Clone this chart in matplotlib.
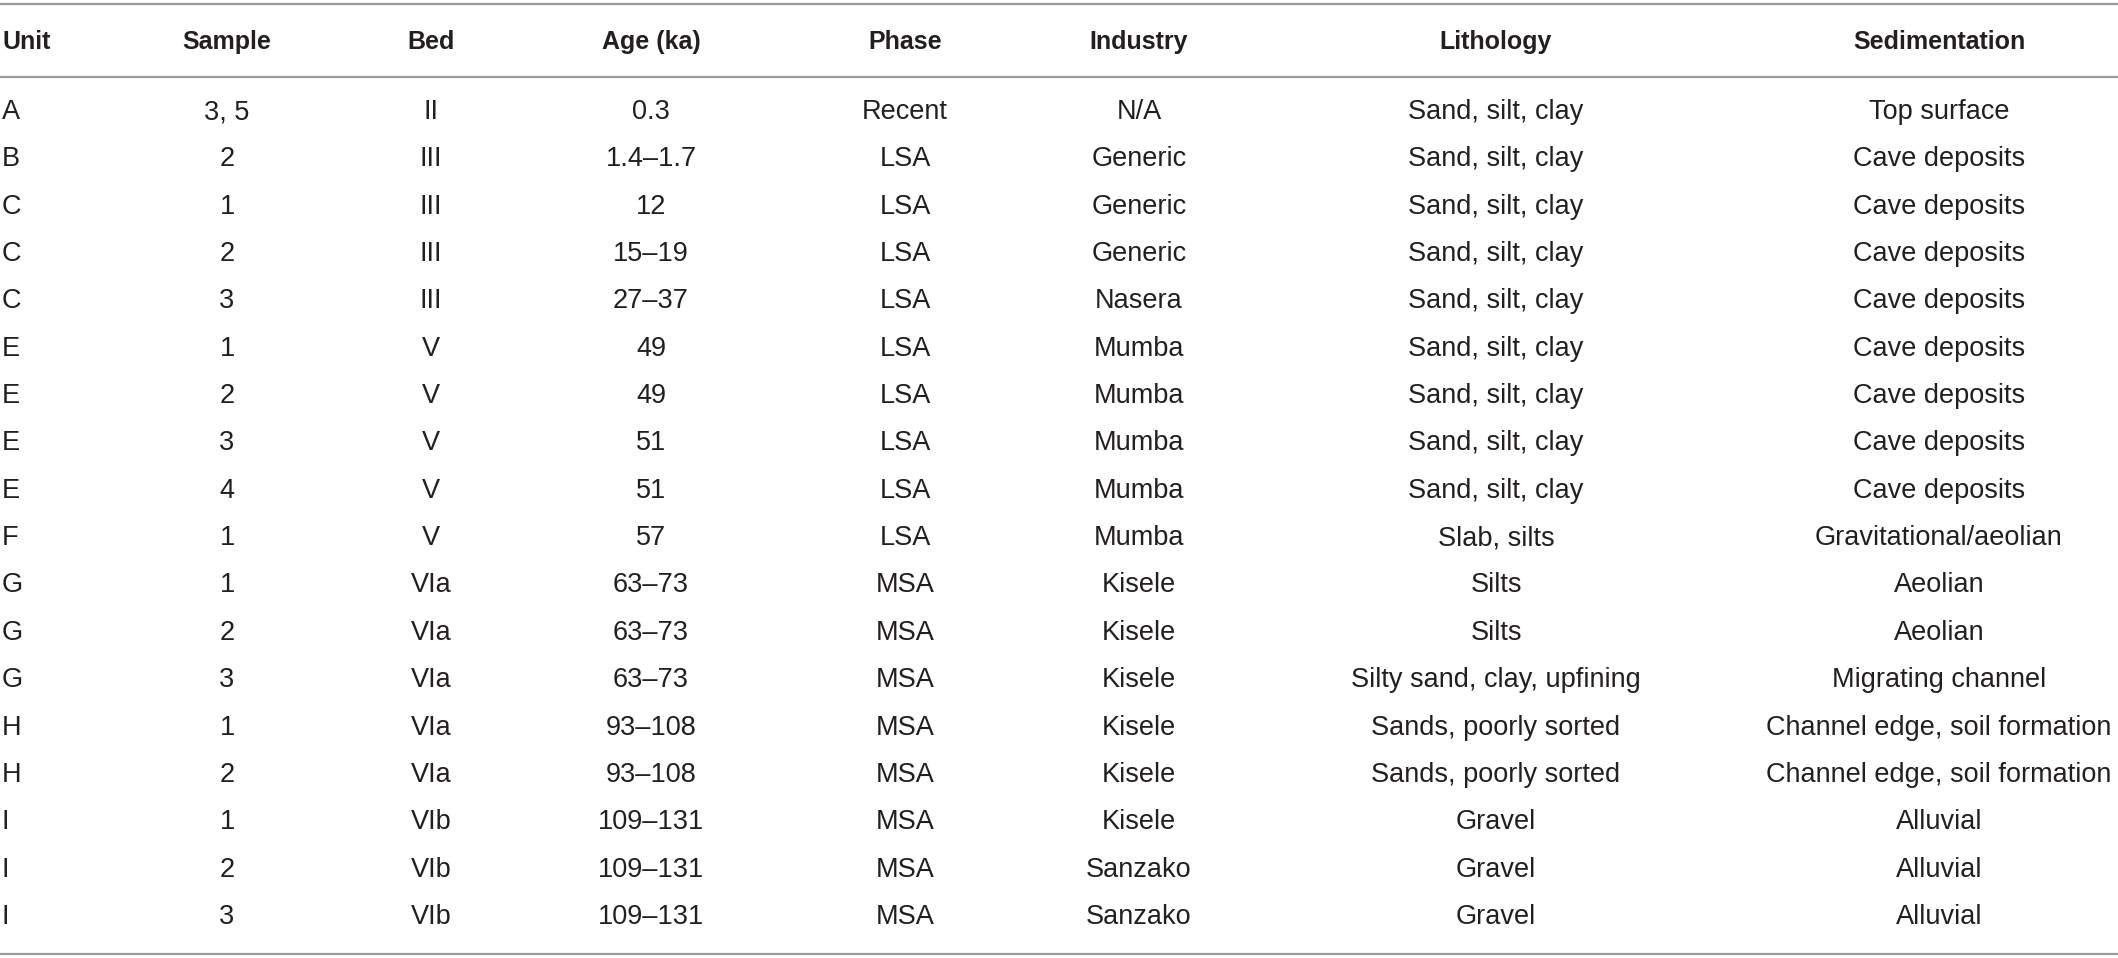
import matplotlib.pyplot as plt

# table contents
headers = ["Unit", "Sample", "Bed", "Age (ka)", "Phase", "Industry", "Lithology", "Sedimentation"]
unit = ["A", "B", "C", "C", "C", "E", "E", "E", "E", "F", "G", "G", "G", "H", "H", "I", "I", "I"]
sample = ["3, 5", "2", "1", "2", "3", "1", "2", "3", "4", "1", "1", "2", "3", "1", "2", "1", "2", "3"]
bed = ["II", "III", "III", "III", "III", "V", "V", "V", "V", "V",
       "VIa", "VIa", "VIa", "VIa", "VIa", "VIb", "VIb", "VIb"]
age = ["0.3", "1.4\u20131.7", "12", "15\u201319", "27\u201337", "49", "49", "51", "51", "57",
       "63\u201373", "63\u201373", "63\u201373", "93\u2013108", "93\u2013108",
       "109\u2013131", "109\u2013131", "109\u2013131"]
phase = ["Recent"] + ["LSA"] * 9 + ["MSA"] * 8
industry = ["N/A", "Generic", "Generic", "Generic", "Nasera", "Mumba", "Mumba", "Mumba", "Mumba",
            "Mumba", "Kisele", "Kisele", "Kisele", "Kisele", "Kisele", "Kisele", "Sanzako", "Sanzako"]
lithology = ["Sand, silt, clay"] * 9 + ["Slab, silts", "Silts", "Silts",
             "Silty sand, clay, upfining", "Sands, poorly sorted", "Sands, poorly sorted",
             "Gravel", "Gravel", "Gravel"]
sedimentation = ["Top surface"] + ["Cave deposits"] * 8 + ["Gravitational/aeolian", "Aeolian",
                 "Aeolian", "Migrating channel", "Channel edge, soil formation",
                 "Channel edge, soil formation", "Alluvial", "Alluvial", "Alluvial"]

columns = [unit, sample, bed, age, phase, industry, lithology, sedimentation]

W, H = 2118, 958
fig = plt.figure(figsize=(W / 100, H / 100), dpi=100)
ax = fig.add_axes([0, 0, 1, 1])
ax.set_xlim(0, W)
ax.set_ylim(H, 0)
ax.axis("off")

plt.rcParams["font.family"] = ["Liberation Sans", "DejaVu Sans"]
txt_color = "#231f20"
line_color = "#9a9a9a"

col_x = [2, 227, 431, 651, 905, 1139, 1496, 1939]
col_ha = ["left"] + ["center"] * 7
header_y = 42
row_y0 = 112
row_step = 47.35

for x, ha, h in zip(col_x, col_ha, headers):
    ax.text(x, header_y, h, ha=ha, va="center", fontsize=18, fontweight="bold", color=txt_color)

for x, ha, col in zip(col_x, col_ha, columns):
    for i, v in enumerate(col):
        ax.text(x, row_y0 + i * row_step, v, ha=ha, va="center", fontsize=19.5, color=txt_color)

for y in [4, 77, 954]:
    ax.plot([0, W], [y, y], color=line_color, lw=1.6)

fig.savefig("out.png", dpi=100)
